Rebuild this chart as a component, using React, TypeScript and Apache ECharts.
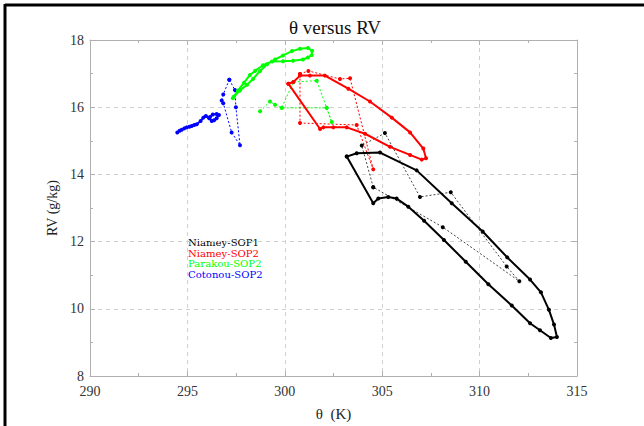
import React, { useEffect, useRef } from "react";
import * as echarts from "echarts";

const seriesNames = ["Niamey-SOP1", "Niamey-SOP2", "Parakou-SOP2", "Cotonou-SOP2"];
const seriesColors = ["#000000", "#ff0000", "#00ff00", "#0000ff"];
const dottedColors = ["#444444", "#ff0000", "#00ff00", "#0000ff"];

// Niamey-SOP1 (black)
const niamey1SolidTheta = [303.18, 303.69, 304.89, 306.77, 308.57, 310.16, 311.42, 312.59, 313.15, 313.56, 313.82, 313.97, 313.66, 313.10, 312.59, 311.65, 310.45, 309.29, 308.17, 307.15, 306.34, 305.74, 305.31, 304.80, 304.54, 303.18];
const niamey1SolidRV = [14.53, 14.63, 14.65, 14.12, 13.14, 12.30, 11.53, 10.87, 10.49, 9.97, 9.53, 9.16, 9.13, 9.36, 9.57, 10.10, 10.73, 11.40, 12.05, 12.62, 13.04, 13.28, 13.33, 13.28, 13.14, 14.53];
const niamey1DotTheta = [304.54, 303.95, 305.14, 306.94, 308.52, 311.39, 312.04, 308.11, 304.54];
const niamey1DotRV = [13.62, 14.86, 15.23, 13.33, 13.47, 11.26, 10.82, 12.43, 13.62];

// Niamey-SOP2 (red)
const niamey2SolidTheta = [300.18, 300.44, 300.78, 301.29, 302.06, 303.26, 304.37, 305.49, 306.43, 307.11, 307.25, 307.03, 306.43, 305.40, 304.12, 303.18, 302.49, 301.98, 301.81, 300.18];
const niamey2SolidRV = [16.70, 16.75, 16.94, 16.94, 16.94, 16.55, 16.17, 15.69, 15.25, 14.77, 14.48, 14.44, 14.58, 14.82, 15.21, 15.40, 15.40, 15.40, 15.35, 16.70];
const niamey2DotTheta = [300.78, 301.21, 302.83, 303.35, 304.54, 303.69, 300.78, 300.78];
const niamey2DotRV = [16.99, 17.08, 16.84, 16.86, 14.15, 15.47, 15.53, 16.99];

// Parakou-SOP2 (green)
const parakouSolidTheta = [297.33, 297.70, 298.06, 298.37, 298.73, 299.09, 299.50, 299.91, 300.37, 300.78, 301.19, 301.40, 301.38, 301.19, 300.93, 300.42, 299.91, 299.34, 298.88, 298.47, 298.21, 297.91, 297.60, 297.39];
const parakouSolidRV = [16.27, 16.50, 16.67, 16.84, 17.08, 17.28, 17.42, 17.54, 17.67, 17.74, 17.76, 17.68, 17.55, 17.48, 17.42, 17.38, 17.37, 17.36, 17.25, 17.08, 16.96, 16.73, 16.50, 16.32];
const parakouDotTheta = [298.73, 299.24, 299.50, 299.84, 300.44, 301.64, 302.15, 302.41, 302.15, 299.84];
const parakouDotRV = [15.88, 16.17, 16.07, 15.98, 16.75, 16.79, 15.98, 15.56, 15.98, 15.98];

// Cotonou-SOP2 (blue)
const cotonouSolidTheta = [294.48, 294.60, 294.71, 294.84, 294.96, 295.10, 295.22, 295.35, 295.48, 295.68, 295.82, 295.95, 296.12, 296.25, 296.37, 296.50, 296.62, 296.50, 296.30, 296.16];
const cotonouSolidRV = [15.25, 15.30, 15.33, 15.37, 15.40, 15.42, 15.44, 15.47, 15.49, 15.59, 15.69, 15.74, 15.67, 15.59, 15.61, 15.67, 15.77, 15.80, 15.78, 15.71];
const cotonouDotTheta = [297.15, 296.84, 296.76, 296.84, 297.27, 297.70, 297.49, 297.44, 297.15];
const cotonouDotRV = [16.82, 16.38, 16.20, 16.12, 15.25, 14.87, 16.00, 16.51, 16.82];

const xTicks = { min: 290, max: 315, interval: 5 };
const yTicks = { min: 8, max: 18, interval: 2 };

const titleText = "θ versus RV";
const xName = "θ  (K)";
const yName = "RV (g/kg)";

const zip = (a: number[], b: number[]) => a.map((v, i) => [v, b[i]]);

export default function App() {
  const ref = useRef<HTMLDivElement>(null);
  useEffect(() => {
    document.body.style.margin = "0";
    const chart = echarts.init(ref.current!, null, { renderer: "svg" });
    const font = "Liberation Serif";
    const axisGray = "#b0b0b0";
    const baseX = {
      type: "value",
      min: xTicks.min,
      max: xTicks.max,
      interval: xTicks.interval,
      axisLine: { show: true, onZero: false, lineStyle: { color: axisGray, width: 1 } },
      axisTick: { show: true, inside: true, length: 5, lineStyle: { color: axisGray } },
      minorTick: { show: true, splitNumber: 2, length: 3, lineStyle: { color: axisGray } },
    };
    const baseY = {
      type: "value",
      min: yTicks.min,
      max: yTicks.max,
      interval: yTicks.interval,
      axisLine: { show: true, onZero: false, lineStyle: { color: axisGray, width: 1 } },
      axisTick: { show: true, inside: true, length: 5, lineStyle: { color: axisGray } },
      minorTick: { show: true, splitNumber: 2, length: 3, lineStyle: { color: axisGray } },
    };
    const solidSets = [
      zip(niamey1SolidTheta, niamey1SolidRV),
      zip(niamey2SolidTheta, niamey2SolidRV),
      zip(parakouSolidTheta, parakouSolidRV),
      zip(cotonouSolidTheta, cotonouSolidRV),
    ];
    const dotSets = [
      zip(niamey1DotTheta, niamey1DotRV),
      zip(niamey2DotTheta, niamey2DotRV),
      zip(parakouDotTheta, parakouDotRV),
      zip(cotonouDotTheta, cotonouDotRV),
    ];
    const series: any[] = [];
    dotSets.forEach((d, i) => {
      series.push({
        type: "line",
        name: seriesNames[i] + " dotted",
        data: d,
        xAxisIndex: 0,
        yAxisIndex: 0,
        symbol: "circle",
        symbolSize: 4,
        showSymbol: true,
        lineStyle: { color: dottedColors[i], width: 1, type: [2, 2] },
        itemStyle: { color: seriesColors[i] },
        z: 2,
      });
    });
    solidSets.forEach((d, i) => {
      series.push({
        type: "line",
        name: seriesNames[i],
        data: d,
        xAxisIndex: 0,
        yAxisIndex: 0,
        symbol: "circle",
        symbolSize: 4,
        showSymbol: true,
        lineStyle: { color: seriesColors[i], width: 2 },
        itemStyle: { color: seriesColors[i] },
        z: 3,
      });
    });
    const legendY0 = 242.5;
    const legendStep = 10.8;
    chart.setOption({
      animation: false,
      backgroundColor: "#ffffff",
      grid: { left: 90, right: 67, top: 40, bottom: 40, containLabel: false },
      xAxis: [
        {
          ...baseX,
          position: "bottom",
          name: xName,
          nameLocation: "middle",
          nameGap: 30,
          nameTextStyle: { fontFamily: font, fontSize: 15, color: "#222" },
          axisLabel: { fontFamily: font, fontSize: 14, color: "#333", margin: 8 },
          splitLine: { show: true, lineStyle: { color: "#d0d0d0", type: [4, 4] } },
        },
        {
          ...baseX,
          position: "top",
          axisLabel: { show: false },
          splitLine: { show: false },
        },
      ],
      yAxis: [
        {
          ...baseY,
          position: "left",
          name: yName,
          nameLocation: "middle",
          nameGap: 30,
          nameRotate: 90,
          nameTextStyle: { fontFamily: font, fontSize: 14, color: "#222" },
          axisLabel: { fontFamily: font, fontSize: 14, color: "#333", margin: 6 },
          splitLine: { show: true, lineStyle: { color: "#d0d0d0", type: [4, 4] } },
        },
        {
          ...baseY,
          position: "right",
          axisLabel: { show: false },
          splitLine: { show: false },
        },
      ],
      series,
      graphic: [
        { type: "line", shape: { x1: 5, y1: 5, x2: 644, y2: 5 }, style: { stroke: "#000", lineWidth: 3 } },
        { type: "line", shape: { x1: 5, y1: 4, x2: 5, y2: 426 }, style: { stroke: "#000", lineWidth: 3 } },
        {
          type: "text",
          x: 335,
          y: 27,
          style: { text: titleText, fontFamily: font, fontSize: 19, fill: "#111", textAlign: "center", textVerticalAlign: "middle" },
        },
        ...seriesNames.map((n, i) => ({
          type: "text",
          x: 188,
          y: legendY0 + i * legendStep,
          scaleX: 1.12,
          style: {
            text: n,
            fontFamily: "DejaVu Serif",
            fontSize: 9,
            lineHeight: 9,
            fill: seriesColors[i],
            textAlign: "left",
            textVerticalAlign: "middle",
          },
        })),
      ],
    });
    return () => chart.dispose();
  }, []);
  return <div ref={ref} style={{ width: 644, height: 426 }} />;
}
